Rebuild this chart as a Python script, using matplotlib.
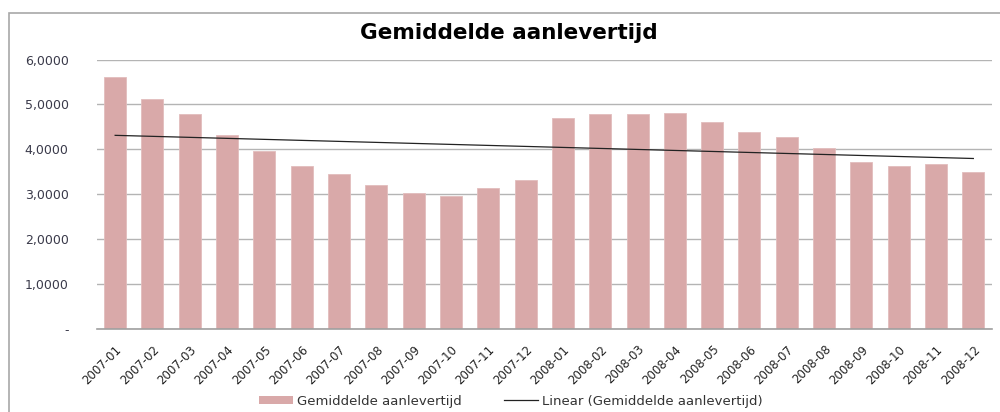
import numpy as np
import matplotlib
matplotlib.use("Agg")
import matplotlib.pyplot as plt
from matplotlib.patches import Rectangle
from matplotlib.lines import Line2D
from matplotlib.patches import Patch

categories = ["2007-01", "2007-02", "2007-03", "2007-04", "2007-05", "2007-06",
              "2007-07", "2007-08", "2007-09", "2007-10", "2007-11", "2007-12",
              "2008-01", "2008-02", "2008-03", "2008-04", "2008-05", "2008-06",
              "2008-07", "2008-08", "2008-09", "2008-10", "2008-11", "2008-12"]
values = [5.62, 5.11, 4.78, 4.31, 3.96, 3.64, 3.44, 3.20, 3.02, 2.96, 3.13, 3.31,
          4.69, 4.78, 4.78, 4.80, 4.60, 4.38, 4.27, 4.02, 3.71, 3.62, 3.67, 3.49]
y_ticks = [0, 1, 2, 3, 4, 5, 6]
y_ticklabels = ["-", "1,0000", "2,0000", "3,0000", "4,0000", "5,0000", "6,0000"]
title = "Gemiddelde aanlevertijd"
series_name = "Gemiddelde aanlevertijd"
trend_name = "Linear (Gemiddelde aanlevertijd)"

plt.rcParams['font.family'] = ['DejaVu Sans']

fig = plt.figure(figsize=(10, 4.12), dpi=100)
W, H = 1000, 412
# outer chart border
fig.patches.append(Rectangle((8.5 / W, -0.5), 1.2, 1.5 - 12.5 / H,
                             transform=fig.transFigure, fill=False,
                             edgecolor="#A8A8A8", linewidth=1.2))

ax = fig.add_axes([96.5 / W, 1 - 329 / H, (992 - 96.5) / W, (329 - 59.5) / H])
x = np.arange(len(categories))
ax.bar(x, values, width=0.59, color="#D9A9A9", edgecolor="#E2BDBD", linewidth=0.6, zorder=2)

coef = np.polyfit(x, values, 1)
ax.plot(x, np.polyval(coef, x), color="#222222", linewidth=0.9, zorder=3)

ax.set_xlim(-0.5, len(categories) - 0.5)
ax.set_ylim(0, 6)
ax.set_yticks(y_ticks)
ax.set_yticklabels(y_ticklabels, fontsize=9, color="#3A3A4A")
ax.set_xticks(x)
ax.set_xticklabels(categories, rotation=45, ha="right", rotation_mode="anchor",
                   fontsize=8.5, color="#222222")
ax.tick_params(axis="y", length=0, pad=20)
ax.tick_params(axis="x", length=0, pad=10)
ax.grid(axis="y", color="#B4B4B4", linewidth=1.0, zorder=0)
ax.set_axisbelow(True)
for s in ["left", "right", "top"]:
    ax.spines[s].set_visible(False)
ax.spines["bottom"].set_color("#A0A0A0")
ax.spines["bottom"].set_linewidth(1.2)

fig.text(0.509, 1 - 33 / H, title, ha="center", va="center",
         fontsize=15.5, fontweight="bold", color="#000000")

handles = [Patch(facecolor="#D9A9A9", edgecolor="none"),
           Line2D([0], [0], color="#222222", linewidth=0.9)]
fig.legend(handles, [series_name, trend_name], loc="center",
           bbox_to_anchor=(0.511, 1 - 401 / H), ncol=2, frameon=False,
           fontsize=9.5, handlelength=2.6, handleheight=0.6, columnspacing=3.2,
           handletextpad=0.3, labelcolor="#333333")

fig.savefig("out.png", dpi=100)
